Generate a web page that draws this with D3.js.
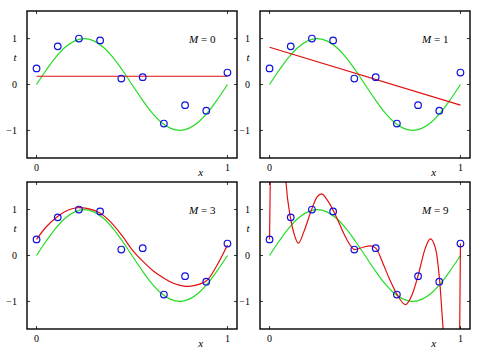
<!DOCTYPE html>
<html>
<head>
<meta charset="utf-8">
<script src="https://cdn.jsdelivr.net/npm/d3@7"></script>
<style>
  body { margin: 0; background: #fff; }
</style>
</head>
<body>
<svg id="chart"></svg>
<script>
const width = 486;
const height = 353;
const serif = "'Liberation Serif', 'DejaVu Serif', 'Times New Roman', serif";

// observed data points
const xPoints = [0, 0.111, 0.222, 0.333, 0.444, 0.556, 0.667, 0.778, 0.889, 1];
const tPoints = [0.35, 0.83, 1.0, 0.96, 0.13, 0.16, -0.85, -0.45, -0.57, 0.26];

// green curve
const trueX = [0, 0.05, 0.1, 0.15, 0.2, 0.25, 0.3, 0.35, 0.4, 0.45, 0.5,
               0.55, 0.6, 0.65, 0.7, 0.75, 0.8, 0.85, 0.9, 0.95, 1];
const trueT = [0, 0.31, 0.59, 0.81, 0.95, 1, 0.95, 0.81, 0.59, 0.31, 0,
               -0.31, -0.59, -0.81, -0.95, -1, -0.95, -0.81, -0.59, -0.31, 0];

// red fitted curves
const fit0X = [0, 1];
const fit0T = [0.18, 0.18];

const fit1X = [0, 1];
const fit1T = [0.81, -0.45];

const fit3X = [0, 0.05, 0.11, 0.16, 0.21, 0.27, 0.33, 0.39, 0.45, 0.5,
               0.56, 0.61, 0.67, 0.72, 0.78, 0.83, 0.89, 0.94, 1];
const fit3T = [0.35, 0.62, 0.85, 0.98, 1.04, 1.02, 0.93, 0.72, 0.42, 0.13,
               -0.14, -0.33, -0.5, -0.61, -0.67, -0.65, -0.55, -0.25, 0.23];

const fit9X = [0, 0.004, 0.015, 0.04, 0.07, 0.086, 0.109, 0.13, 0.151, 0.18,
               0.221, 0.25, 0.273, 0.3, 0.335, 0.365, 0.392, 0.42, 0.445, 0.49,
               0.527, 0.556, 0.597, 0.63, 0.667, 0.711, 0.746, 0.778, 0.816, 0.842,
               0.869, 0.891, 0.909, 0.93, 0.96, 0.985, 0.996, 1];
const fit9T = [0.35, 1.7, 3.0, 3.6, 2.8, 1.6, 0.83, 0.45, 0.27, 0.52,
               1.01, 1.28, 1.34, 1.22, 0.97, 0.7, 0.45, 0.24, 0.13, 0.18,
               0.21, 0.16, -0.2, -0.53, -0.84, -1.07, -0.86, -0.44, 0.16, 0.36,
               0.16, -0.55, -1.58, -2.6, -3.4, -2.8, -1.6, 0.26];

const xTicks = [0, 1];
const yTicks = [-1, 0, 1];
const orders = ["0", "1", "3", "9"];

const panels = [
  { left: 27,  top: 11,  order: orders[0], fx: fit0X, ft: fit0T, curve: d3.curveLinear },
  { left: 260, top: 11,  order: orders[1], fx: fit1X, ft: fit1T, curve: d3.curveLinear },
  { left: 27,  top: 182, order: orders[2], fx: fit3X, ft: fit3T, curve: d3.curveCatmullRom },
  { left: 260, top: 182, order: orders[3], fx: fit9X, ft: fit9T, curve: d3.curveMonotoneX }
];
const pw = 210;
const ph = 147;

const svg = d3.select("#chart")
    .attr("width", width)
    .attr("height", height);

const x = d3.scaleLinear().domain([-0.05, 1.05]).range([0, pw]);
const y = d3.scaleLinear().domain([-1.6, 1.6]).range([ph, 0]);

panels.forEach((p, k) => {
    const g = svg.append("g").attr("transform", `translate(${p.left},${p.top})`);

    g.append("clipPath").attr("id", "clip" + k)
      .append("rect").attr("width", pw).attr("height", ph);

    const plot = g.append("g").attr("clip-path", `url(#clip${k})`);

    const line = d3.line().x(d => x(d[0])).y(d => y(d[1]));

    plot.append("path")
        .datum(d3.zip(trueX, trueT))
        .attr("fill", "none")
        .attr("stroke", "#22dd22")
        .attr("stroke-width", 1.2)
        .attr("d", line.curve(d3.curveCatmullRom));

    plot.append("path")
        .datum(d3.zip(p.fx, p.ft))
        .attr("fill", "none")
        .attr("stroke", "#e01010")
        .attr("stroke-width", 1.2)
        .attr("d", line.curve(p.curve));

    plot.selectAll("circle")
        .data(d3.zip(xPoints, tPoints))
        .join("circle")
        .attr("cx", d => x(d[0]))
        .attr("cy", d => y(d[1]))
        .attr("r", 3.3)
        .attr("fill", "none")
        .attr("stroke", "#1010e0")
        .attr("stroke-width", 1.2);

    // frame
    g.append("rect")
        .attr("width", pw).attr("height", ph)
        .attr("fill", "none")
        .attr("stroke", "#000")
        .attr("stroke-width", 1.4);

    // inward ticks
    const tickLen = 3;
    xTicks.forEach(v => {
        g.append("line").attr("x1", x(v)).attr("x2", x(v)).attr("y1", ph).attr("y2", ph - tickLen)
            .attr("stroke", "#000").attr("stroke-width", 0.8);
        g.append("line").attr("x1", x(v)).attr("x2", x(v)).attr("y1", 0).attr("y2", tickLen)
            .attr("stroke", "#000").attr("stroke-width", 0.8);
        g.append("text").attr("x", x(v)).attr("y", ph + 12.5)
            .attr("font-family", serif)
            .attr("text-anchor", "middle").attr("font-size", 10).text(v);
    });
    yTicks.forEach(v => {
        g.append("line").attr("x1", 0).attr("x2", tickLen).attr("y1", y(v)).attr("y2", y(v))
            .attr("stroke", "#000").attr("stroke-width", 0.8);
        g.append("line").attr("x1", pw).attr("x2", pw - tickLen).attr("y1", y(v)).attr("y2", y(v))
            .attr("stroke", "#000").attr("stroke-width", 0.8);
        g.append("text").attr("x", -10).attr("y", y(v) + 3.5)
            .attr("font-family", serif)
            .attr("text-anchor", "end").attr("font-size", 10)
            .text(v < 0 ? "\u2212" + Math.abs(v) : v);
    });

    // axis letters
    g.append("text").attr("x", x(0.86)).attr("y", ph + 17.5)
        .attr("font-family", serif)
        .attr("text-anchor", "middle").attr("font-size", 11)
        .attr("font-style", "italic").text("x");
    g.append("text").attr("x", -12).attr("y", y(0.59) + 3.5)
        .attr("font-family", serif)
        .attr("text-anchor", "middle").attr("font-size", 11)
        .attr("font-style", "italic").text("t");

    const lab = g.append("text").attr("x", 162).attr("y", 32)
        .attr("font-family", serif).attr("font-size", 11);
    lab.append("tspan").attr("font-style", "italic").text("M");
    lab.append("tspan").text(" = " + p.order);
});
</script>
</body>
</html>
